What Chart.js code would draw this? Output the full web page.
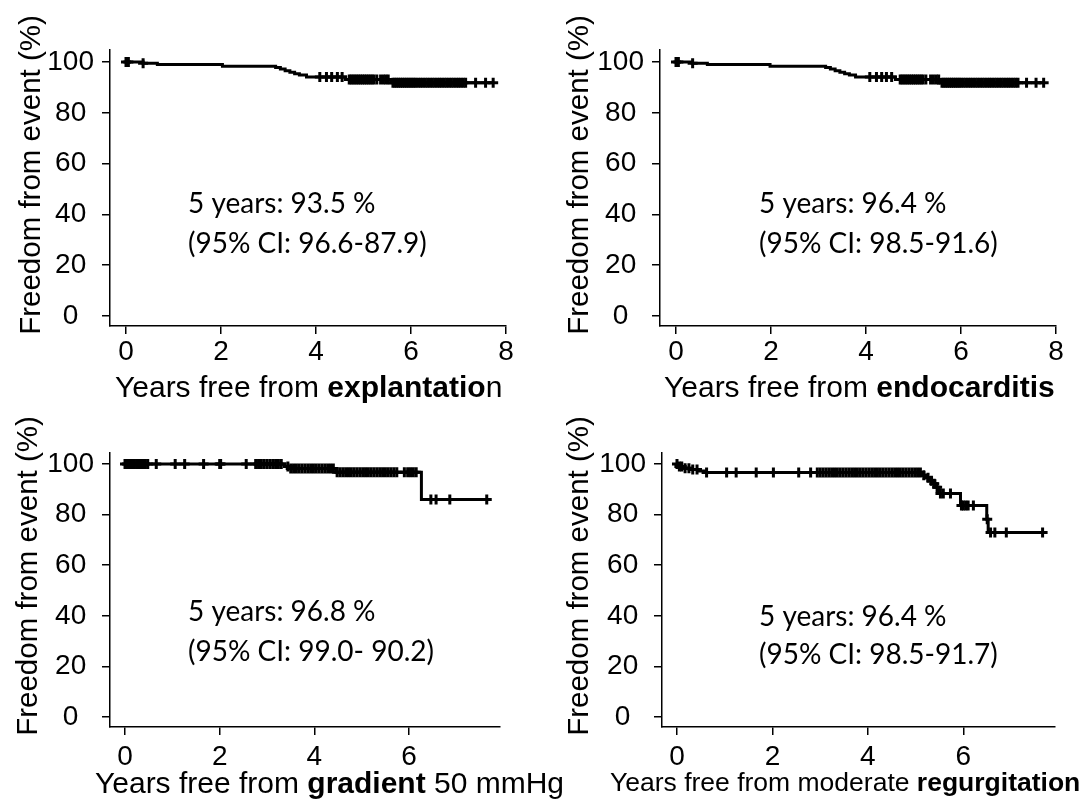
<!DOCTYPE html>
<html>
<head>
<meta charset="utf-8">
<title>Freedom from event</title>
<script src="https://cdn.jsdelivr.net/npm/chart.js@4.4.1/dist/chart.umd.min.js"></script>
<style>
  body { margin: 0; background: #fff; }
  #wrap { position: relative; width: 1086px; height: 799px; overflow: hidden; background: #fff; }
  .panel { position: absolute; }
</style>
</head>
<body>
<div id="wrap">
  <div class="panel" style="left:0;top:0"><canvas id="c1" width="543" height="410"></canvas></div>
  <div class="panel" style="left:543px;top:0"><canvas id="c2" width="543" height="410"></canvas></div>
  <div class="panel" style="left:0;top:400px"><canvas id="c3" width="600" height="399"></canvas></div>
  <div class="panel" style="left:543px;top:400px"><canvas id="c4" width="543" height="399"></canvas></div>
</div>
<script>
// --- data ---
const yTicks = [0, 20, 40, 60, 80, 100];
const xTicksTop = [0, 2, 4, 6, 8];
const xTicksBottom = [0, 2, 4, 6];
const yTitle = 'Freedom from event (%)';

// explantation
const explantTimes = [0, 0.36, 0.66, 2.03, 3.15, 3.25, 3.35, 3.45, 3.55, 3.65, 3.8, 4.62, 5.58, 7.74];
const explantSurv = [100, 99.5, 99.0, 98.3, 97.8, 97.2, 96.6, 96.0, 95.4, 94.9, 94.1, 93.1, 91.8, 91.8];
const explantCensor = [0, 0.05, 0.36, 4.08, 4.22, 4.33, 4.45, 4.55, 4.7, 4.74, 4.78, 4.82, 4.86, 4.9, 4.94,
  4.98, 5.02, 5.06, 5.1, 5.14, 5.18, 5.22, 5.28, 5.36, 5.42, 5.47, 5.52, 5.62, 5.66, 5.7, 5.74, 5.78, 5.82,
  5.86, 5.9, 5.94, 5.98, 6.02, 6.06, 6.1, 6.15, 6.2, 6.25, 6.3, 6.35, 6.4, 6.45, 6.5, 6.55, 6.6, 6.65, 6.7,
  6.75, 6.8, 6.85, 6.9, 6.95, 7.0, 7.05, 7.1, 7.15, 7.36, 7.57, 7.73];
const explantTitle = [['Years free from ', false], ['explantatio', true], ['n', false]];
const explantNote = ['5 years: 93.5 %', '(95% CI: 96.6-87.9)'];

// endocarditis
const endoTimes = [0, 0.34, 0.66, 1.98, 3.15, 3.25, 3.35, 3.45, 3.55, 3.65, 3.78, 4.62, 5.55, 7.76];
const endoSurv = [100, 99.5, 99.0, 98.3, 97.8, 97.2, 96.6, 96.0, 95.4, 94.9, 94.1, 93.1, 91.8, 91.8];
const endoCensor = [0, 0.05, 0.35, 4.08, 4.22, 4.33, 4.43, 4.54, 4.72, 4.76, 4.8, 4.84, 4.88, 4.92, 4.96,
  5.0, 5.04, 5.08, 5.12, 5.16, 5.2, 5.26, 5.36, 5.42, 5.48, 5.53, 5.6, 5.64, 5.68, 5.72, 5.76, 5.8, 5.84,
  5.88, 5.92, 5.96, 6.0, 6.05, 6.1, 6.15, 6.2, 6.25, 6.3, 6.35, 6.4, 6.45, 6.5, 6.55, 6.6, 6.65, 6.7, 6.75,
  6.8, 6.85, 6.9, 6.95, 7.0, 7.05, 7.1, 7.15, 7.2, 7.38, 7.58, 7.74];
const endoTitle = [['Years free from ', false], ['endocarditis', true]];
const endoNote = ['5 years: 96.4 %', '(95% CI: 98.5-91.6)'];

// gradient
const gradTimes = [0, 3.38, 3.5, 4.45, 6.26, 7.64];
const gradSurv = [100, 99.0, 98.2, 96.7, 86.0, 86.0];
const gradCensor = [0, 0.04, 0.08, 0.12, 0.16, 0.2, 0.25, 0.3, 0.34, 0.38, 0.43, 0.48, 0.66, 1.06, 1.26,
  1.66, 2.0, 2.02, 2.56, 2.76, 2.82, 2.88, 2.94, 3.0, 3.06, 3.12, 3.18, 3.24, 3.3, 3.44, 3.5, 3.56, 3.62,
  3.68, 3.74, 3.8, 3.86, 3.92, 3.98, 4.04, 4.1, 4.16, 4.22, 4.28, 4.34, 4.4, 4.48, 4.54, 4.6, 4.66, 4.72,
  4.78, 4.84, 4.9, 4.96, 5.02, 5.08, 5.14, 5.2, 5.26, 5.32, 5.38, 5.44, 5.5, 5.56, 5.62, 5.68, 5.74, 5.9,
  5.97, 6.03, 6.09, 6.15, 6.46, 6.57, 6.86, 7.64];
const gradTitle = [['Years free from ', false], ['gradient', true], [' 50 mmHg', false]];
const gradNote = ['5 years: 96.8 %', '(95% CI: 99.0- 90.2)'];

// regurgitation
const regTimes = [0, 0.03, 0.12, 0.3, 0.45, 0.58, 5.14, 5.22, 5.3, 5.36, 5.42, 5.49, 5.94, 6.49, 6.52, 7.66];
const regSurv = [100, 99.0, 98.3, 97.8, 97.2, 96.6, 95.6, 94.6, 93.4, 92.2, 90.8, 88.3, 83.6, 78.2, 72.9, 72.9];
const regCensor = [0, 0.05, 0.1, 0.17, 0.25, 0.33, 0.42, 0.62, 1.04, 1.24, 1.66, 2.02, 2.55, 2.8, 2.94,
  3.0, 3.06, 3.12, 3.18, 3.24, 3.3, 3.36, 3.42, 3.48, 3.54, 3.6, 3.66, 3.72, 3.78, 3.84, 3.9, 3.96, 4.02,
  4.08, 4.14, 4.2, 4.26, 4.32, 4.38, 4.44, 4.5, 4.56, 4.62, 4.68, 4.74, 4.8, 4.86, 4.92, 4.98, 5.04, 5.1,
  5.17, 5.26, 5.33, 5.39, 5.45, 5.52, 5.58, 5.73, 5.96, 6.0, 6.05, 6.1, 6.21, 6.5, 6.57, 6.66, 6.9, 7.66];
const regTitle = [['Years free from moderate ', false], ['regurgitation', true]];
const regNote = ['5 years: 96.4 %', '(95% CI: 98.5-91.7)'];

const ARIAL = '"Liberation Sans", Arial, sans-serif';
const CALIBRI = 'Lato, "Open Sans", sans-serif';

// KM value at time t (step function)
function survAt(times, surv, t) {
  let v = surv[0];
  for (let i = 0; i < times.length; i++) {
    if (times[i] <= t) v = surv[i];
  }
  return v;
}

// draws y title, mixed-weight x title and the 5-year note
const panelText = {
  id: 'panelText',
  afterDraw(chart, args, o) {
    const ctx = chart.ctx;
    ctx.save();
    ctx.fillStyle = '#000';

    ctx.save();
    ctx.translate(o.yTitleX, o.yTitleY);
    ctx.rotate(-Math.PI / 2);
    ctx.font = `29.5px ${ARIAL}`;
    ctx.textAlign = 'center';
    ctx.textBaseline = 'alphabetic';
    ctx.fillText(yTitle, 0, 0);
    ctx.restore();

    ctx.textAlign = 'left';
    ctx.textBaseline = 'alphabetic';
    let px = o.xTitleX;
    o.xTitle.forEach(([txt, bold]) => {
      ctx.font = `${bold ? 'bold ' : ''}${o.xTitleSize}px ${ARIAL}`;
      ctx.fillText(txt, px, o.xTitleY);
      px += ctx.measureText(txt).width;
    });

    ctx.font = `28px ${CALIBRI}`;
    ctx.textBaseline = 'middle';
    o.note.forEach((line, i) => {
      ctx.fillText(line, o.noteX, o.noteY + i * o.noteGap);
    });
    ctx.restore();
  },
};

function makeKM(id, cfg) {
  const curve = cfg.times.map((t, i) => ({ x: t, y: cfg.surv[i] }));
  const marks = cfg.censor.map((t) => ({ x: t, y: survAt(cfg.times, cfg.surv, t) }));
  const axisStyle = {
    border: { display: true, color: '#000', width: 1.5 },
    grid: { display: true, drawOnChartArea: false, drawTicks: true, tickLength: 8, color: '#000', lineWidth: 1.5 },
  };

  return new Chart(document.getElementById(id), {
    type: 'scatter',
    data: {
      datasets: [
        {
          data: curve,
          showLine: true,
          stepped: true,
          borderColor: '#000',
          borderWidth: 3,
          pointRadius: 0,
        },
        {
          data: marks,
          showLine: false,
          pointStyle: 'cross',
          pointRadius: 5,
          pointBorderWidth: 3,
          pointBorderColor: '#000',
          pointBackgroundColor: '#000',
        },
      ],
    },
    options: {
      responsive: false,
      animation: false,
      events: [],
      layout: { padding: { left: 0, top: cfg.top, right: cfg.right, bottom: 0 } },
      plugins: {
        legend: { display: false },
        tooltip: { enabled: false },
        panelText: cfg.text,
      },
      scales: {
        x: {
          type: 'linear',
          min: cfg.xMin,
          max: cfg.xMax,
          ...axisStyle,
          afterBuildTicks: (s) => { s.ticks = cfg.xTicks.map((v) => ({ value: v })); },
          afterFit: (s) => { s.height = cfg.xHeight; },
          ticks: { color: '#000', padding: cfg.xPad, maxRotation: 0, font: { family: ARIAL, size: 28 } },
        },
        y: {
          min: cfg.yMin,
          max: cfg.yMax,
          ...axisStyle,
          afterBuildTicks: (s) => { s.ticks = yTicks.map((v) => ({ value: v })); },
          afterFit: (s) => { s.width = cfg.yWidth; },
          ticks: { color: '#000', padding: 8, crossAlign: 'center', font: { family: ARIAL, size: 28 } },
        },
      },
    },
    plugins: [panelText],
  });
}

makeKM('c1', {
  times: explantTimes, surv: explantSurv, censor: explantCensor,
  xMin: -0.337, xMax: 8, xTicks: xTicksTop, yMin: -3.94, yMax: 104.72,
  top: 50, right: 37, yWidth: 110, xHeight: 84, xPad: 1,
  text: { yTitleX: 40, yTitleY: 175, xTitle: explantTitle, xTitleX: 115, xTitleY: 397, xTitleSize: 30,
    note: explantNote, noteX: 188, noteY: 204, noteGap: 40 },
});

makeKM('c2', {
  times: endoTimes, surv: endoSurv, censor: endoCensor,
  xMin: -0.337, xMax: 8, xTicks: xTicksTop, yMin: -3.94, yMax: 104.72,
  top: 50, right: 30, yWidth: 117, xHeight: 84, xPad: 1,
  text: { yTitleX: 45, yTitleY: 175, xTitle: endoTitle, xTitleX: 121, xTitleY: 397, xTitleSize: 30,
    note: endoNote, noteX: 216, noteY: 204, noteGap: 40 },
});

makeKM('c3', {
  times: gradTimes, surv: gradSurv, censor: gradCensor,
  xMin: -0.317, xMax: 7.92, xTicks: xTicksBottom, yMin: -3.95, yMax: 104.35,
  top: 53, right: 100, yWidth: 110, xHeight: 72, xPad: 5,
  text: { yTitleX: 37, yTitleY: 176, xTitle: gradTitle, xTitleX: 95, xTitleY: 393, xTitleSize: 30,
    note: gradNote, noteX: 188, noteY: 212, noteGap: 40 },
});

makeKM('c4', {
  times: regTimes, surv: regSurv, censor: regCensor,
  xMin: -0.314, xMax: 7.92, xTicks: xTicksBottom, yMin: -3.95, yMax: 104.35,
  top: 53, right: 31, yWidth: 119, xHeight: 72, xPad: 5,
  text: { yTitleX: 45, yTitleY: 176, xTitle: regTitle, xTitleX: 67, xTitleY: 391, xTitleSize: 26.5,
    note: regNote, noteX: 216, noteY: 217, noteGap: 38 },
});
</script>
</body>
</html>
